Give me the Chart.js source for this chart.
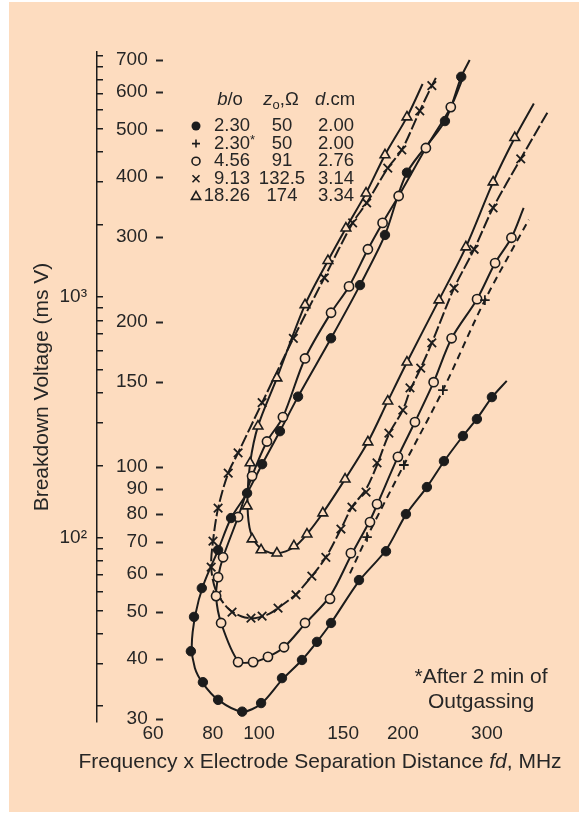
<!DOCTYPE html>
<html>
<head>
<meta charset="utf-8">
<script src="https://cdn.jsdelivr.net/npm/chart.js@4.4.1/dist/chart.umd.min.js"></script>
<style>
html,body{margin:0;padding:0;background:#ffffff;}
#bg{position:absolute;left:9px;top:2px;width:570px;height:810px;background:#FDDCBF;}
#c{position:absolute;left:0;top:0;}
</style>
</head>
<body>
<div id="bg"></div>
<canvas id="c" width="582" height="814"></canvas>
<script>
// ---------------- data (fd in MHz, breakdown voltage in V) ----------------
const xTickValues = [60, 80, 100, 150, 200, 300];
const yTickValues = [30, 40, 50, 60, 70, 80, 90, 100, 150, 200, 300, 400, 500, 600, 700];
const y2TickValues = [20, 30, 40, 50, 60, 70, 80, 90, 100, 200, 300, 400, 500, 600, 700, 800, 900,
                      1000, 2000, 3000, 4000, 5000, 6000, 7000, 8000, 9000, 10000];
const y2LabelMap = {100: '10²', 1000: '10³'};

const xTitle = 'Frequency x Electrode Separation Distance fd, MHz';
const yTitle = 'Breakdown Voltage (ms V)';
const legendBo = ['2.30', '2.30*', '4.56', '9.13', '18.26'];
const legendZ0 = ['50', '50', '91', '132.5', '174'];
const legendD  = ['2.00', '2.00', '2.76', '3.14', '3.34'];
const noteLines = ['*After 2 min of', 'Outgassing'];

// b/o = 2.30 (filled circles)
const filledPoints = [[265,645],[245,522],[204,408],[183.5,303],[162.7,238.5],[141.5,185],[120.7,140],
  [110.6,118.7],[101.5,101.4],[94.4,88.3],[87.4,78.4],[82.1,67.3],[75.9,56.1],[73.1,48.9],[72.0,41.5],
  [76.3,35.8],[82.1,32.9],[92.2,31.1],[101.0,32.4],[111.7,36.5],[123.0,39.8],[132.2,43.4],[141.5,47.5],
  [161.9,58.3],[184.4,66.9],[203,79.9],[224.6,90.9],[243.8,102.9],[267.2,116],[285.8,125.8],[307.2,139.7]];
const filledCurve = [[276,699],[265,645],[245,522],[204,408],[183.5,303],[162.7,238.5],[141.5,185],[120.7,140],
  [110.6,118.7],[101.5,101.4],[94.4,88.3],[87.4,78.4],[82.1,67.3],[76.5,57],[73.6,49.5],[72.3,42.5],[73.4,38.3],
  [76.3,35.6],[82.1,32.9],[92.2,31.1],[101.0,32.3],[111.7,36.2],[123.0,39.8],[132.2,43.4],[141.5,47.5],
  [161.9,58.0],[184.4,67.3],[203,79.7],[224.6,90.9],[243.8,102.7],[267.2,116],[285.8,126],[307.2,139.5],[330,151]];

// b/o = 2.30* after outgassing (plus)
const plusPoints = [[168.3,71.6],[201,101],[242.6,144.4],[297,222]];
const plusCurve  = [[155,60.2],[168.3,71.6],[201,101],[242.6,144.4],[297,222],[367,326]];

// b/o = 4.56 (open circles)
const openPoints = [[252,558],[223.5,459],[196,365],[181.4,321],[169,283],[154.3,237],[141.5,209],[124.8,168],
  [112.2,127],[103.9,113],[96.7,95.8],[90.4,78.8],[84.1,65],[82.1,59.1],[81.3,54],[83.3,47.5],[90.4,39.4],
  [97.2,39.4],[104.4,40.4],[112.8,42.3],[124.8,47.5],[140.8,53.3],[155.7,66.3],[170.7,76.9],[176.6,83.8],
  [195.3,105],[212,124],[232,150],[253,185],[286,223],[312,265],[337.5,299]];
const openCurve = [[266,635],[252,558],[223.5,459],[196,365],[181.4,321],[169,283],[154.3,237],[141.5,209],
  [124.8,168],[112.2,127],[103.9,113],[96.7,95.8],[90.4,78.8],[84.1,65],[82.1,59.1],[81.3,54],[83.3,47.5],
  [90.4,39.6],[97.2,39.4],[104.4,40.4],[112.8,42.3],[124.8,47.3],[140.8,54],[155.7,65.5],[170.7,77.5],
  [176.6,83.5],[195.3,105],[212,124],[232,150],[253,185],[286,223],[312,265],[337.5,299],[358,345]];

// b/o = 9.13 (crosses)
const crossPoints = [[230,618],[217,548],[199,455],[186,417],[168,353],[157,321],[137,247],[118,185],
  [101.5,136],[90.4,107],[86.2,97.2],[82.1,82.2],[80.1,70.2],[79.4,62],[81.7,54.3],[87.8,50.0],[96.2,48.6],
  [101.5,49.1],[109.6,51],[119.5,54.3],[129,59.4],[138,65],[148.4,74.4],[156.5,82.6],[167.5,88.7],
  [176.6,102],[187,117.6],[200,131.3],[207,146],[218,160.5],[230,181],[256,235],[282,283],[309,345],[353,436]];
const crossCurve = [[234.5,641.5],[230,618],[217,548],[199,455],[186,417],[168,353],[157,321],[137,247],[118,185],
  [101.5,136],[90.4,107],[86.2,97.2],[82.1,82.2],[80.1,70.2],[79.4,62],[81.2,55.5],[86,51],[92,49],[98,48.6],
  [105,49.6],[112,51.8],[119.5,54.5],[129,59.4],[138,65],[148.4,74.4],[156.5,82.6],[167.5,90],
  [176.6,101],[187,117],[200,131.3],[207,144],[218,160.5],[230,181],[256,235],[282,283],[309,345],[353,436],[402,545]];

// b/o = 18.26 (triangles)
const triPoints = [[204,532],[183.5,444],[167.5,370],[152,313],[139.4,268],[124.8,217],[109,153],[99.5,121.6],
  [95.8,102],[94.4,83],[96.7,70.9],[101,67.3],[109,66.3],[118.3,68.6],[126,72.6],[136,80.3],[151.4,94.4],
  [169,112.7],[186,137],[204,165],[238,222],[271,286],[309,390],[343,482]];
const triCurve = [[220,623],[204,532],[183.5,444],[167.5,370],[152,313],[139.4,268],[124.8,217],[109,153],
  [99.5,121.6],[95.8,102],[94.6,86],[95.5,75],[98.5,69.5],[103,67],[109,66.2],[118.3,68.2],[126,72.6],
  [136,80.3],[151.4,94.4],[169,112.7],[186,137],[204,165],[238,222],[271,286],[309,390],[343,482],[376,568]];

// axis ranges
const xRange = [45.8, 393];
const yRange = [29.6, 726];
const y2Range = [17.2, 10390];

// ---------------- drawing ----------------
const INK = '#1c1c1c';
const TEXT = '#262626';
const PEACH = '#FDDCBF';
const FAMILY = '"Liberation Sans", Arial, Helvetica, sans-serif';

const toPts = arr => arr.map(([x, y]) => ({x, y}));
function curveDs(data, dash) {
  return {data: toPts(data), showLine: true, pointRadius: 0, borderColor: INK, borderWidth: 2,
          borderDash: dash || [], tension: 0.3, clip: false, order: 2};
}
function markerDs(data, style, r, filled, bw) {
  return {data: toPts(data), showLine: false, pointStyle: style, pointRadius: r,
          pointBackgroundColor: filled ? INK : PEACH, pointBorderColor: INK, pointBorderWidth: bw || 1.6,
          clip: false, order: 1};
}

function drawMarker(ctx, kind, x, y) {
  ctx.save();
  ctx.strokeStyle = INK; ctx.fillStyle = INK; ctx.lineWidth = 1.6;
  ctx.beginPath();
  if (kind === 'filled') { ctx.arc(x, y, 4.5, 0, Math.PI * 2); ctx.fill(); }
  else if (kind === 'open') { ctx.arc(x, y, 4, 0, Math.PI * 2); ctx.stroke(); }
  else if (kind === 'plus') { ctx.moveTo(x - 4, y); ctx.lineTo(x + 4, y); ctx.moveTo(x, y - 4); ctx.lineTo(x, y + 4); ctx.stroke(); }
  else if (kind === 'cross') { ctx.moveTo(x - 3.5, y - 3.5); ctx.lineTo(x + 3.5, y + 3.5); ctx.moveTo(x + 3.5, y - 3.5); ctx.lineTo(x - 3.5, y + 3.5); ctx.stroke(); }
  else if (kind === 'tri') { ctx.moveTo(x, y - 5); ctx.lineTo(x + 4.6, y + 3); ctx.lineTo(x - 4.6, y + 3); ctx.closePath(); ctx.stroke(); }
  ctx.restore();
}

function drawParts(ctx, parts, cx, y, size) {
  const fontOf = p => (p.italic ? 'italic ' : '') + (p.sub ? size * 0.7 : size) + 'px ' + FAMILY;
  let total = 0;
  parts.forEach(p => { ctx.font = fontOf(p); p.w = ctx.measureText(p.t).width; total += p.w; });
  let x = cx - total / 2;
  parts.forEach(p => { ctx.font = fontOf(p); ctx.fillText(p.t, x, y + (p.sub ? 5 : 0)); x += p.w; });
}

const legendKinds = ['filled', 'plus', 'open', 'cross', 'tri'];

const tablePlugin = {
  id: 'tablePlugin',
  afterDraw(chart) {
    const ctx = chart.ctx;
    ctx.save();
    ctx.fillStyle = TEXT;
    ctx.textBaseline = 'middle';
    const size = 18.5;
    drawParts(ctx, [{t: 'b', italic: true}, {t: '/o'}], 230, 100, size);
    drawParts(ctx, [{t: 'z', italic: true}, {t: 'o', sub: true}, {t: ',Ω'}], 281, 100, size);
    drawParts(ctx, [{t: 'd', italic: true}, {t: '.cm'}], 335, 100, size);
    ctx.font = size + 'px ' + FAMILY;
    for (let i = 0; i < legendBo.length; i++) {
      const y = 126 + i * 17.6;
      drawMarker(ctx, legendKinds[i], 196, y);
      let bo = legendBo[i];
      const star = bo.endsWith('*');
      if (star) bo = bo.slice(0, -1);
      ctx.textAlign = 'right';
      ctx.fillText(bo, 250, y);
      if (star) { ctx.textAlign = 'left'; ctx.font = '13px ' + FAMILY; ctx.fillText('*', 250, y - 3); ctx.font = size + 'px ' + FAMILY; }
      ctx.textAlign = 'center';
      ctx.fillText(legendZ0[i], 282, y);
      ctx.fillText(legendD[i], 336, y);
    }
    // note
    ctx.font = '21px ' + FAMILY;
    ctx.textAlign = 'center';
    ctx.fillText(noteLines[0], 481, 677);
    ctx.fillText(noteLines[1], 481, 702);
    // x-axis title (with italic "fd")
    const tParts = xTitle.split('fd');
    ctx.font = '21px ' + FAMILY;
    const w0 = ctx.measureText(tParts[0]).width, w2 = ctx.measureText(tParts[1]).width;
    ctx.font = 'italic 21px ' + FAMILY;
    const w1 = ctx.measureText('fd').width;
    let tx = 320 - (w0 + w1 + w2) / 2;
    ctx.textAlign = 'left';
    ctx.font = '21px ' + FAMILY; ctx.fillText(tParts[0], tx, 762); tx += w0;
    ctx.font = 'italic 21px ' + FAMILY; ctx.fillText('fd', tx, 762); tx += w1;
    ctx.font = '21px ' + FAMILY; ctx.fillText(tParts[1], tx, 762);
    // dashes after main y labels
    const ys = chart.scales.y;
    ctx.strokeStyle = TEXT;
    ctx.lineWidth = 2;
    ys.ticks.forEach(t => {
      const py = Math.round(ys.getPixelForValue(t.value)) + 0.5;
      ctx.beginPath(); ctx.moveTo(156, py); ctx.lineTo(163, py); ctx.stroke();
    });
    ctx.restore();
  }
};

Chart.defaults.font.family = FAMILY;
Chart.defaults.color = TEXT;

new Chart(document.getElementById('c'), {
  type: 'scatter',
  data: {
    datasets: [
      curveDs(filledCurve), curveDs(plusCurve, [7, 5]), curveDs(openCurve),
      curveDs(crossCurve, [12, 3]), curveDs(triCurve),
      markerDs(filledPoints, 'circle', 4.7, true, 1),
      markerDs(plusPoints, 'cross', 4.8, false, 1.8),
      markerDs(openPoints, 'circle', 4.6, false, 1.6),
      markerDs(crossPoints, 'crossRot', 6, false, 1.8),
      markerDs(triPoints, 'triangle', 5.6, false, 1.6)
    ]
  },
  options: {
    responsive: false,
    animation: false,
    events: [],
    layout: {padding: {left: 25.7, top: 52, right: 39, bottom: 69.2}},
    elements: {line: {capBezierPoints: false}},
    plugins: {legend: {display: false}, tooltip: {enabled: false}},
    scales: {
      x: {
        type: 'logarithmic', min: xRange[0], max: xRange[1], bounds: 'data',
        afterBuildTicks: s => { s.ticks = xTickValues.map(v => ({value: v})); },
        afterFit: s => { s.height = 22.8; },
        ticks: {autoSkip: false, maxRotation: 0, padding: 0, font: {size: 19}, color: TEXT, callback: v => String(v)},
        grid: {display: false, drawTicks: false},
        border: {display: false},
        title: {display: false}
      },
      y: {
        type: 'logarithmic', position: 'left', weight: 0, min: yRange[0], max: yRange[1], bounds: 'data',
        afterBuildTicks: s => { s.ticks = yTickValues.map(v => ({value: v})); },
        afterFit: s => { s.width = 0; },
        ticks: {autoSkip: false, mirror: true, crossAlign: 'far', padding: 19, font: {size: 19}, color: TEXT,
                callback: v => String(v)},
        grid: {display: false, drawTicks: false},
        border: {display: false}
      },
      y2: {
        type: 'logarithmic', position: 'left', weight: 1, min: y2Range[0], max: y2Range[1], bounds: 'data',
        afterBuildTicks: s => { s.ticks = y2TickValues.map(v => ({value: v})); },
        afterFit: s => { s.width = 71.3; },
        ticks: {autoSkip: false, padding: 16, font: {size: 19}, color: TEXT,
                callback: v => (y2LabelMap[v] !== undefined ? y2LabelMap[v] : '')},
        grid: {display: true, drawOnChartArea: false, drawTicks: true, tickLength: -6, color: INK, lineWidth: 1.5},
        border: {display: true, color: INK, width: 1.5},
        title: {display: true, text: yTitle, font: {size: 21}, color: TEXT, padding: {top: 4, bottom: 4}}
      }
    }
  },
  plugins: [tablePlugin]
});
</script>
</body>
</html>
